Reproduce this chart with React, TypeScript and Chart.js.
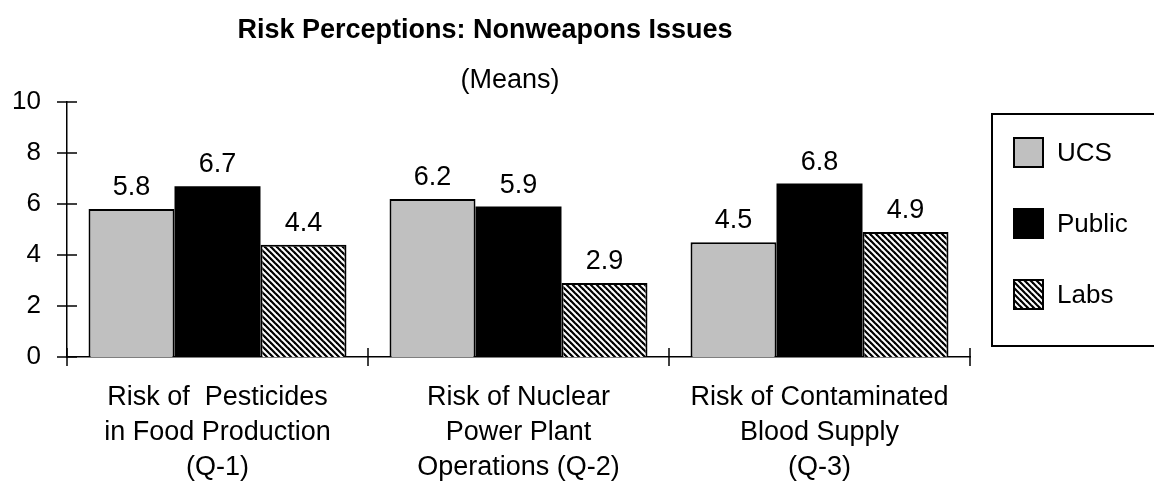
import React, { useEffect, useRef } from "react";
import { Chart, registerables } from "chart.js";

Chart.register(...registerables);

const titleText = "Risk Perceptions: Nonweapons Issues";
const subtitleText = "(Means)";
const categories: string[][] = [
  ["Risk of  Pesticides", "in Food Production", "(Q-1)"],
  ["Risk of Nuclear", "Power Plant", "Operations (Q-2)"],
  ["Risk of Contaminated", "Blood Supply", "(Q-3)"],
];
const seriesNames = ["UCS", "Public", "Labs"];
const ucsValues = [5.8, 6.2, 4.5];
const publicValues = [6.7, 5.9, 6.8];
const labsValues = [4.4, 2.9, 4.9];
const yTicks = [0, 2, 4, 6, 8, 10];

const FONT = "'Liberation Sans', Arial, Helvetica, sans-serif";

function makeHatch(): CanvasPattern | string {
  const s = 6;
  const c = document.createElement("canvas");
  c.width = s;
  c.height = s;
  const g = c.getContext("2d");
  if (!g) return "#888";
  g.fillStyle = "#fff";
  g.fillRect(0, 0, s, s);
  g.strokeStyle = "#000";
  g.lineWidth = 2.2;
  for (let k = -1; k <= 1; k++) {
    g.beginPath();
    g.moveTo(k * s - 1, -1);
    g.lineTo(k * s + s + 1, s + 1);
    g.stroke();
  }
  const p = g.createPattern(c, "repeat");
  return p || "#888";
}

export default function App() {
  const ref = useRef<HTMLCanvasElement | null>(null);

  useEffect(() => {
    document.body.style.margin = "0";
    const canvas = ref.current;
    if (!canvas) return;
    const hatch = makeHatch();
    const fills: any[] = ["#c0c0c0", "#000000", hatch];

    const decor = {
      id: "decor",
      afterDraw(chart: any) {
        const ctx = chart.ctx as CanvasRenderingContext2D;
        const xs = chart.scales.x;
        const ys = chart.scales.y;
        const axisX = chart.chartArea.left;
        const axisY = chart.chartArea.bottom;
        ctx.save();
        // titles
        ctx.fillStyle = "#000";
        ctx.textAlign = "center";
        ctx.textBaseline = "middle";
        ctx.font = `bold 27px ${FONT}`;
        ctx.fillText(titleText, 485, 31);
        ctx.font = `27px ${FONT}`;
        ctx.fillText(subtitleText, 510, 81);

        // crossing tick marks
        ctx.strokeStyle = "#000";
        ctx.lineWidth = 1.5;
        yTicks.forEach((v) => {
          const py = ys.getPixelForValue(v);
          ctx.beginPath();
          ctx.moveTo(axisX - 10, py);
          ctx.lineTo(axisX + 10, py);
          ctx.stroke();
        });
        for (let i = 0; i <= categories.length; i++) {
          const px = xs.getPixelForValue(i - 0.5);
          ctx.beginPath();
          ctx.moveTo(px, axisY - 9);
          ctx.lineTo(px, axisY + 9);
          ctx.stroke();
        }

        // value labels
        ctx.font = `27px ${FONT}`;
        ctx.textAlign = "center";
        ctx.textBaseline = "alphabetic";
        chart.data.datasets.forEach((ds: any, di: number) => {
          const meta = chart.getDatasetMeta(di);
          meta.data.forEach((el: any, i: number) => {
            ctx.fillText(Number(ds.data[i]).toFixed(1), el.x, el.y - 14);
          });
        });

        // legend box
        ctx.lineWidth = 2;
        ctx.strokeStyle = "#000";
        ctx.strokeRect(992, 114, 200, 232);
        const tops = [138, 209, 280];
        const sw = 29;
        seriesNames.forEach((name, i) => {
          const top = tops[i];
          ctx.fillStyle = fills[i];
          ctx.fillRect(1014, top, sw, sw);
          ctx.lineWidth = 2;
          ctx.strokeStyle = "#000";
          ctx.strokeRect(1014, top, sw, sw);
          ctx.fillStyle = "#000";
          ctx.font = `26px ${FONT}`;
          ctx.textAlign = "left";
          ctx.textBaseline = "middle";
          ctx.fillText(name, 1057, top + sw / 2 + 1);
        });
        ctx.restore();
      },
    };

    const chart = new Chart(canvas, {
      type: "bar",
      data: {
        labels: categories as any,
        datasets: [
          {
            label: seriesNames[0],
            data: ucsValues,
            backgroundColor: fills[0],
            borderColor: "#000",
            borderWidth: 2,
          },
          {
            label: seriesNames[1],
            data: publicValues,
            backgroundColor: fills[1],
            borderColor: "#000",
            borderWidth: 0,
          },
          {
            label: seriesNames[2],
            data: labsValues,
            backgroundColor: fills[2],
            borderColor: "#000",
            borderWidth: 2,
          },
        ],
      },
      options: {
        responsive: false,
        animation: false,
        devicePixelRatio: 1,
        layout: { padding: { top: 102, right: 184, left: 0, bottom: 0 } },
        datasets: { bar: { categoryPercentage: 0.857, barPercentage: 1 } },
        plugins: {
          legend: { display: false },
          title: { display: false },
          tooltip: { enabled: false },
        },
        scales: {
          x: {
            grid: { display: false, drawTicks: false },
            border: { display: true, color: "#000", width: 1.5 },
            ticks: {
              color: "#000",
              font: { family: FONT, size: 27, lineHeight: 35 / 27 },
              padding: 23,
              maxRotation: 0,
              minRotation: 0,
              autoSkip: false,
            },
            afterFit: (s: any) => {
              s.height = 128;
            },
          },
          y: {
            min: 0,
            max: 10,
            grid: { display: false, drawTicks: false },
            border: { display: true, color: "#000", width: 1.5 },
            ticks: {
              color: "#000",
              font: { family: FONT, size: 26 },
              padding: 26,
              stepSize: 2,
            },
            afterBuildTicks: (s: any) => {
              s.ticks = yTicks.map((v) => ({ value: v }));
            },
            afterFit: (s: any) => {
              s.width = 67;
            },
          },
        },
      } as any,
      plugins: [decor],
    });
    return () => chart.destroy();
  }, []);

  return (
    <canvas
      ref={ref}
      width={1154}
      height={485}
      style={{ display: "block", width: "1154px", height: "485px" }}
    />
  );
}
